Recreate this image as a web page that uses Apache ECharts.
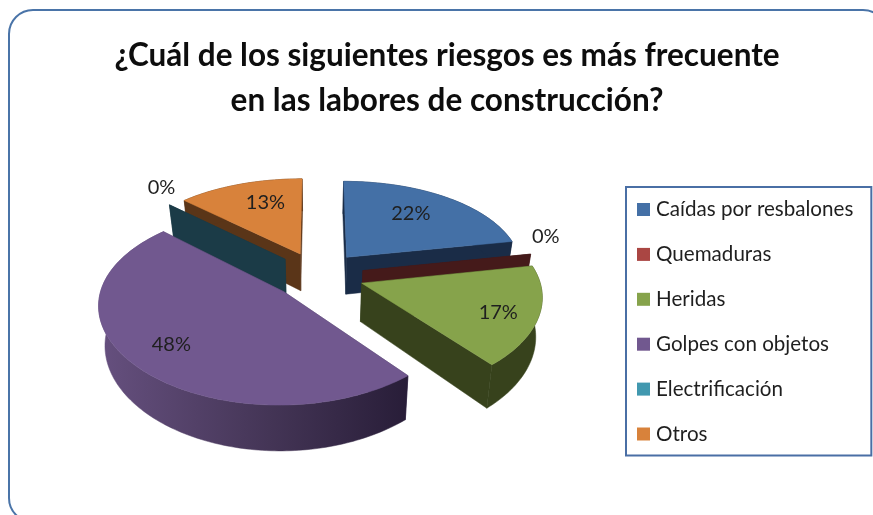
<!DOCTYPE html>
<html><head><meta charset="utf-8">
<style>html,body{margin:0;padding:0;background:#fff}#c{width:873px;height:515px}</style>
<script src="https://cdn.jsdelivr.net/npm/echarts@6/dist/echarts.min.js"></script>
</head><body><div id="c"></div>
<script>
const titleText = '¿Cuál de los siguientes riesgos es más frecuente\nen las labores de construcción?';
const categories = ['Caídas por resbalones','Quemaduras','Heridas','Golpes con objetos','Electrificación','Otros'];
const percentages = [22,0,17,48,0,13];
const topColors = ['#4470A6','#AA4643','#86A34B','#71588F','#4198AF','#D8823B'];
const wallColors = ['#1A2C47','#451A1A','#37421C','#4A3A60','#1B3B47','#5A3518'];
const paintOrder = [5,0,1,2,4,3];
const labelReach = [0.66,1.08,0.8,0.74,1.15,0.72];
const labelNudge = [[-3,-3],[2,-16],[-4,3],[-5,0],[8,-10],[10,0]];

const R=178,Cx=318,Cy=275,k=0.515,px=0.12,py=0.145,q=0.005,Depth=38,shrink=0.03,Explode=46;
function project(u,v,z){
  const w=1+px*v/R+q*u/R, wy=1+py*v/R;
  return [Cx+u/(w*(1+shrink*z)), Cy-k*v/wy+z*Depth/wy];
}
const total=percentages.reduce((a,b)=>a+b,0);
const spans=[];let acc=0;
percentages.forEach(v=>{const s=acc/total*2*Math.PI;acc+=v;spans.push([s,acc/total*2*Math.PI]);});

function sliceChildren(i){
  const [a0,a1]=spans[i],mid=(a0+a1)/2;
  const ex=Explode*Math.sin(mid),ey=Explode*Math.cos(mid);
  const pt=(r,t,z)=>project(ex+r*Math.sin(t),ey+r*Math.cos(t),z);
  const out=[];
  const poly=(points,fill)=>out.push({type:'polygon',shape:{points},style:{fill,stroke:fill,lineWidth:0.5},silent:true});
  [a0,a1].forEach(t=>poly([pt(0,0,0),pt(R,t,0),pt(R,t,1),pt(0,0,1)],wallColors[i]));
  if(a1>a0){
    const n=Math.ceil((a1-a0)/0.02),top=[],bot=[];
    for(let j=0;j<=n;j++){const t=a0+(a1-a0)*j/n;top.push(pt(R,t,0));bot.push(pt(R,t,1));}
    const fill=i===3?new echarts.graphic.LinearGradient(0,0,1,0,[
      {offset:0,color:'#66507F'},{offset:0.55,color:'#443556'},{offset:1,color:'#281D38'}]):wallColors[i];
    poly(top.concat(bot.reverse()),fill);
    poly([pt(0,0,0)].concat(top),topColors[i]);
  }
  const l=pt(R*labelReach[i],mid,0);
  out.push({type:'text',silent:true,style:{x:l[0]+labelNudge[i][0],y:l[1]+labelNudge[i][1],text:percentages[i]+'%',align:'center',verticalAlign:'middle',
    fill:'#1f1f1f',font:'20px Lato'}});
  return out;
}

const series=categories.map((name,i)=>({
  type:'custom',name,coordinateSystem:'none',silent:true,animation:false,clip:false,
  z:2+paintOrder.indexOf(i),
  itemStyle:{color:topColors[i]},
  data:[[percentages[i]]],
  renderItem:()=>({type:'group',children:sliceChildren(i)})
}));

const chart=echarts.init(document.getElementById('c'),null,{renderer:'canvas'});
chart.setOption({
  backgroundColor:'#fff',animation:false,
  title:{text:titleText,left:442,top:28,textAlign:'center',
    textStyle:{fontFamily:'Lato',fontWeight:'bold',fontSize:31.5,lineHeight:45,color:'#0d0d0d'}},
  graphic:[{type:'rect',z:0,silent:true,shape:{x:9,y:10,width:878,height:512,r:24},
    style:{fill:'#fff',stroke:'#4A74A8',lineWidth:2}}],
  legend:{orient:'vertical',left:626,top:187,data:categories,itemWidth:13,itemHeight:13,itemGap:23.9,
    padding:[12,18,11,11],borderColor:'#4A6FA5',borderWidth:2,backgroundColor:'#fff',selectedMode:false,
    icon:'rect',textStyle:{fontFamily:'Lato',fontSize:20.6,color:'#1f1f1f',padding:[0,0,0,1]}},
  series
});
</script></body></html>
